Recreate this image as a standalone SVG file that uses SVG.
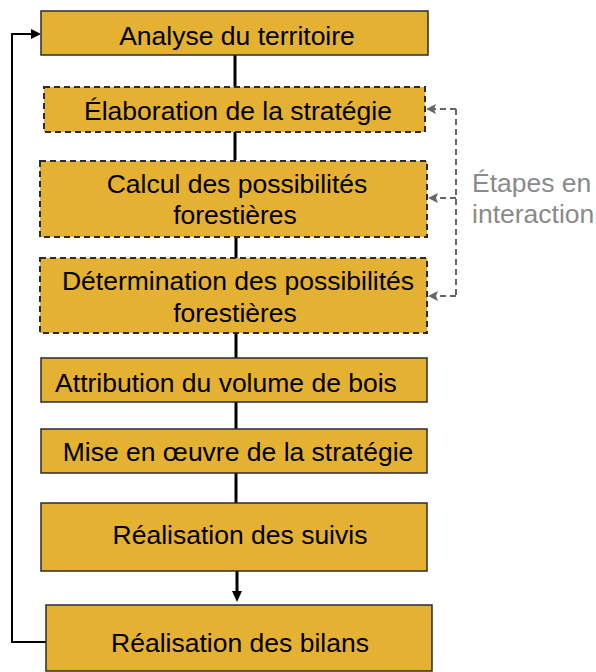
<svg xmlns="http://www.w3.org/2000/svg" width="596" height="672" viewBox="0 0 596 672">
<style>
.box{fill:#E4B133;stroke:#2b2b2b;stroke-width:1.5}
.dbox{fill:#E4B133;stroke:#2b2b2b;stroke-width:2;stroke-dasharray:6 4}
.t{font-family:"Liberation Sans",Arial,sans-serif;font-size:26.5px;fill:#000;text-anchor:middle}
.g{font-family:"Liberation Sans",Arial,sans-serif;font-size:26.5px;fill:#8a8a8a}
.link{stroke:#000;stroke-width:3;fill:none}
.fb{stroke:#000;stroke-width:2;fill:none}
.dl{stroke:#666;stroke-width:2;stroke-dasharray:6 4;fill:none}
</style>
<defs>
<marker id="ab" markerWidth="10" markerHeight="10" refX="9" refY="5" orient="auto" markerUnits="userSpaceOnUse">
<path d="M0,1 L9,5 L0,9 Z" fill="#000"/>
</marker>
<marker id="ag" markerWidth="10" markerHeight="10" refX="1" refY="5" orient="auto" markerUnits="userSpaceOnUse">
<path d="M9,1 L1,5 L9,9 L7,5 Z" fill="#666"/>
</marker>
</defs>
<g id="connectors">
<line class="link" x1="235" y1="55" x2="235" y2="87"/>
<line class="link" x1="235" y1="132" x2="235" y2="160"/>
<line class="link" x1="236" y1="237" x2="236" y2="258"/>
<line class="link" x1="236" y1="333" x2="236" y2="358"/>
<line class="link" x1="236" y1="402" x2="236" y2="429"/>
<line class="link" x1="236" y1="473" x2="236" y2="503"/>
<line stroke="#000" stroke-width="3" x1="237" y1="571" x2="237" y2="593"/>
<path d="M232,591 L242,591 L237,602 Z" fill="#000"/>
<polyline class="fb" points="46,642 12,642 12,34 32,34"/>
<path d="M31,29 L41,34 L31,39 Z" fill="#000"/>
<polyline class="dl" points="456,109 456,296"/>
<line class="dl" x1="456" y1="109" x2="430" y2="109"/>
<line class="dl" x1="456" y1="198" x2="432" y2="198"/>
<line class="dl" x1="456" y1="296" x2="432" y2="296"/>
<path d="M436,104 L426,109 L436,114 L434,109 Z" fill="#666"/>
<path d="M438,193 L428,198 L438,203 L436,198 Z" fill="#666"/>
<path d="M438,291 L428,296 L438,301 L436,296 Z" fill="#666"/>
</g>
<g id="n1"><rect class="box" x="41" y="11" width="387" height="44"/><text class="t" x="237" y="45">Analyse du territoire</text></g>
<g id="n2"><rect class="dbox" x="44" y="87" width="381" height="45"/><text class="t" x="238" y="120">Élaboration de la stratégie</text></g>
<g id="n3"><rect class="dbox" x="40" y="161" width="387" height="76"/><text class="t" x="237" y="193">Calcul des possibilités</text><text class="t" x="235" y="224">forestières</text></g>
<g id="n4"><rect class="dbox" x="40" y="258" width="387" height="75"/><text class="t" x="238" y="290">Détermination des possibilités</text><text class="t" x="235" y="322">forestières</text></g>
<g id="n5"><rect class="box" x="41" y="358" width="386" height="44"/><text class="t" x="226" y="392">Attribution du volume de bois</text></g>
<g id="n6"><rect class="box" x="41" y="429" width="386" height="44"/><text class="t" x="238" y="461">Mise en œuvre de la stratégie</text></g>
<g id="n7"><rect class="box" x="41" y="503" width="386" height="68"/><text class="t" x="240" y="544">Réalisation des suivis</text></g>
<g id="n8"><rect class="box" x="46" y="605" width="386" height="66"/><text class="t" x="240" y="652">Réalisation des bilans</text></g>
<g id="label"><text class="g" x="472" y="192">Étapes en</text><text class="g" x="472" y="223">interaction</text></g>
</svg>
